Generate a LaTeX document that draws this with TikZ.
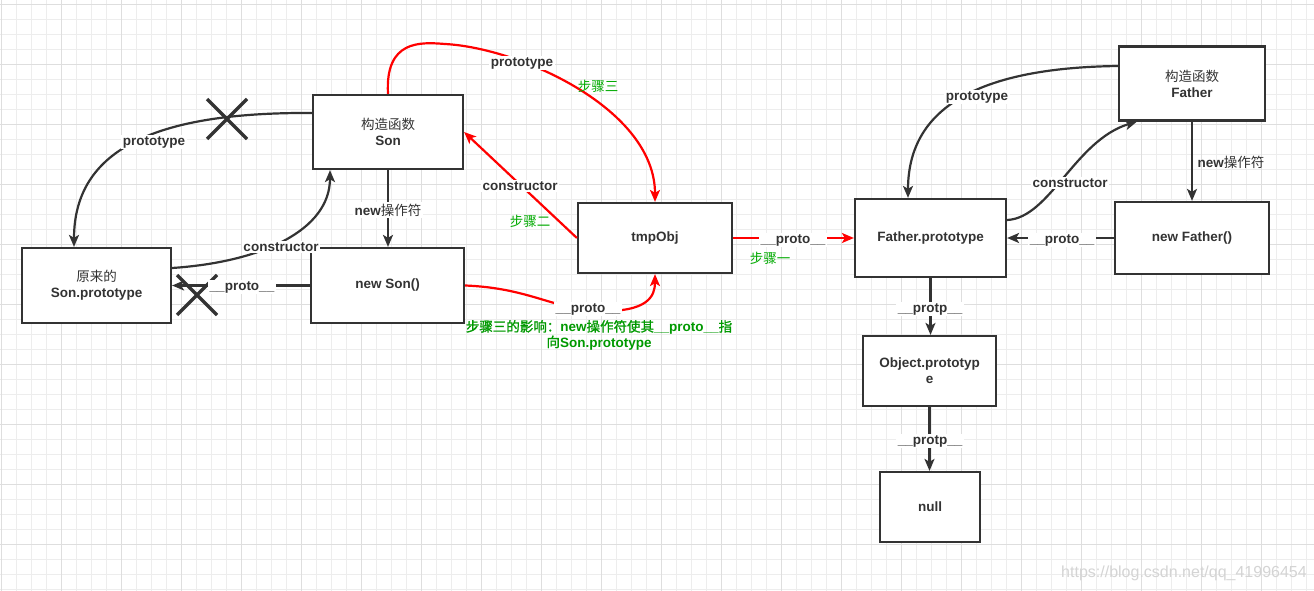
\documentclass[tikz,border=0pt]{standalone}
\usepackage{fontspec}
\setmainfont{Liberation Sans}
\newfontfamily\zhfont{Noto Sans CJK SC}
\newfontfamily\zhbfont{Noto Sans CJK SC}[FakeBold=1.2]
\newcommand\zh[1]{{\zhfont\mdseries #1}}
\newcommand\zhb[1]{{\zhbfont\mdseries #1}}
\usetikzlibrary{arrows.meta,calc}
\definecolor{ink}{HTML}{333333}
\definecolor{gridminor}{HTML}{EDEDED}
\definecolor{gridmajor}{HTML}{DEDEDE}
\definecolor{stepgreen}{HTML}{00AA00}
\definecolor{capgreen}{HTML}{009900}
\definecolor{wmark}{HTML}{D4D4D4}
\begin{document}
\begin{tikzpicture}[x=1pt,y=-1pt,
  box/.style={draw=ink,line width=2.2pt,fill=white,text=ink,align=center,inner sep=0pt,
    font=\fontsize{13.5}{16}\selectfont\bfseries},
  conn/.style={draw=ink,line width=2.2pt,-{Stealth[length=12pt,width=10pt,inset=3pt]}},
  rconn/.style={conn,draw=red},
  elab/.style={fill=white,text=ink,inner sep=1.5pt,font=\fontsize{13.5}{16}\selectfont\bfseries},
  steplab/.style={text=stepgreen,inner sep=0pt,font=\fontsize{13.5}{16}\selectfont},
  xmark/.style={draw=ink,line width=3.2pt},
]
\useasboundingbox (0,0) rectangle (1314,591);
% grid background
\begin{scope}
\clip (0,0) rectangle (1314,591);
\fill[white] (0,0) rectangle (1314,591);
\foreach \i in {0,...,87} \draw[gridminor,line width=1pt] ({1.7+15*\i},0) -- ++(0,591);
\foreach \j in {0,...,39} \draw[gridminor,line width=1pt] (0,{4.3+15*\j}) -- ++(1314,0);
\foreach \i in {0,...,21} \draw[gridmajor,line width=1pt] ({1.7+60*\i},0) -- ++(0,591);
\foreach \j in {0,...,9} \draw[gridmajor,line width=1pt] (0,{4.3+60*\j}) -- ++(1314,0);
\end{scope}

% nodes
\node[box,minimum width=150pt,minimum height=74pt] (sonctor) at (388,132) {\zh{构造函数}\\Son};
\node[box,minimum width=149pt,minimum height=75pt] (sonproto) at (96.5,285.5) {\zh{原来的}\\Son.prototype};
\node[box,minimum width=153pt,minimum height=75pt] (newson) at (387.5,285.5) {new Son()};
\node[box,minimum width=154pt,minimum height=70pt] (tmp) at (655,238) {tmpObj};
\node[box,minimum width=151pt,minimum height=78pt] (fproto) at (930.5,238) {Father.prototype};
\node[box,minimum width=146pt,minimum height=74pt] (fctor) at (1192,83.5) {\zh{构造函数}\\Father};
\node[box,minimum width=154pt,minimum height=72pt] (newf) at (1192,238) {new Father()};
\node[box,minimum width=133pt,minimum height=70pt] (objp) at (929.5,371) {Object.prototyp\\e};
\node[box,minimum width=100pt,minimum height=70pt] (nul) at (930,507) {null};

\coordinate (rp) at (445,44);
\coordinate (rq) at (600,311);

% black connectors, Son side
\draw[conn] ($(sonctor.west)+(0,-19)$) .. controls (160,112) and ($(sonproto.north)+(-22.5,-100)$) .. ($(sonproto.north)+(-22.5,0)$);
\draw[conn] ($(sonproto.east)+(0,-17.5)$) .. controls (262,262) and ($(sonctor.south)+(-58,60)$) .. ($(sonctor.south)+(-58,0)$);
\draw[conn] (sonctor.south) -- (sonctor.south |- newson.north);
\draw[conn] (newson.west) -- (sonproto.east);

% red connectors
\draw[rconn] (sonctor.north) .. controls (385,40) and (420,42) .. (rp) .. controls (520,48) and ($(tmp.north)+(0,-93)$) .. (tmp.north);
\draw[rconn] (tmp.west) -- (sonctor.east);
\draw[rconn] (newson.east) .. controls (530,288) and (555,310) .. (rq) .. controls (648,312) and ($(tmp.south)+(0,22)$) .. (tmp.south);
\draw[rconn] (tmp.east) -- (fproto.west);

% black connectors, Father side
\draw[conn] ($(fctor.west)+(0,-17.5)$) .. controls (960,68) and ($(fproto.north)+(-22.5,-79)$) .. ($(fproto.north)+(-22.5,0)$);
\draw[conn] ($(fproto.east)+(0,-18)$) .. controls (1050,218) and (1075,140) .. ($(fctor.south)+(-55,0)$);
\draw[conn] (fctor.south) -- (newf.north);
\draw[conn] (newf.west) -- (fproto.east);
\draw[conn] (fproto.south) -- (fproto.south |- objp.north);
\draw[conn] (objp.south) -- (objp.south |- nul.north);

% crosses
\draw[xmark] (207,99) -- (247,139) (207,139) -- (247,99);
\draw[xmark] (177,275) -- (217,315) (177,315) -- (217,275);

% edge labels
\node[elab] (l1) at (154,142) {prototype};
\node[elab] (l2) at (281,247) {constructor};
\node[elab] (l3) at (388,210) {new\zh{操作符}};
\node[elab] (l4) at (242,287) {\_\_proto\_\_};
\node[elab] (l5) at (522,63) {prototype};
\node[elab] (l6) at (520,186) {constructor};
\node[elab] (l7) at (588,309) {\_\_proto\_\_};
\node[elab] (l8) at (793,240) {\_\_proto\_\_};
\node[elab] (l9) at (977,97) {prototype};
\node[elab] (l10) at (1070,183) {constructor};
\node[elab,anchor=west,fill=none] (l11) at (1196,162) {new\zh{操作符}};
\node[elab] (l12) at (1062,240) {\_\_proto\_\_};
\node[elab] (l13) at (930,309) {\_\_protp\_\_};
\node[elab] (l14) at (930,441) {\_\_protp\_\_};

% step labels
\node[steplab] (s3) at (598,86) {\zh{步骤三}};
\node[steplab] (s2) at (530,221) {\zh{步骤二}};
\node[steplab] (s1) at (770,258) {\zh{步骤一}};
\node[text=capgreen,align=center,inner sep=0pt,font=\fontsize{13.5}{15.5}\selectfont\bfseries] (cap) at (599,335)
  {\zhb{步骤三的影响：}new\zhb{操作符使其}\_\_proto\_\_\zhb{指}\\\zhb{向}Son.prototype};

% watermark
\node[text=wmark,inner sep=0pt,font=\fontsize{16}{18}\selectfont] (wm) at (1184,573) {https://blog.csdn.net/qq\_41996454};
\end{tikzpicture}
\end{document}
